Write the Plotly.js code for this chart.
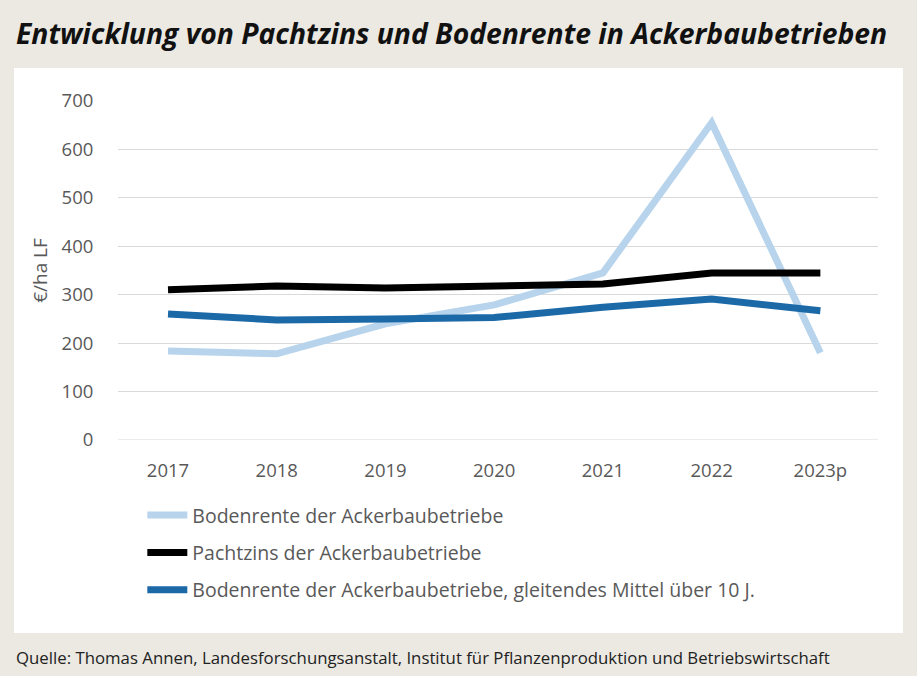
<!DOCTYPE html>
<html><head><meta charset="utf-8">
<script src="https://cdn.plot.ly/plotly-3.0.1.min.js"></script>
<style>body{margin:0;background:#ebe9e2}#c{width:917px;height:676px}</style>
</head><body><div id="c"></div>
<script>
const years = ["2017","2018","2019","2020","2021","2022","2023p"];
const bodenrente = [184, 178, 240, 279, 345, 655, 180];
const pachtzins = [310, 318, 314, 318, 322, 345, 345];
const mittel10 = [260, 248, 250, 253, 274, 291, 267];
const names = ["Bodenrente der Ackerbaubetriebe","Pachtzins der Ackerbaubetriebe","Bodenrente der Ackerbaubetriebe, gleitendes Mittel über 10 J."];
const colors = ["#b7d4ec","#000000","#1c69a8"];
const series = [bodenrente, pachtzins, mittel10];
const traces = series.map((v,i)=>({
  x: years, y: v, type:'scatter', mode:'lines', name: names[i],
  line:{color:colors[i], width:7}, legendgroup:'g'+i, cliponaxis:false
}));
const layout = {
  width:917, height:676,
  paper_bgcolor:'#ebe9e2', plot_bgcolor:'#ffffff',
  margin:{l:118, r:39, t:101, b:236},
  font:{family:'Open Sans, sans-serif', color:'#595959', size:18},
  showlegend:true,
  legend:{x:0.032, y:-0.165, xanchor:'left', yanchor:'top', bgcolor:'rgba(0,0,0,0)',
    font:{size:19.5, color:'#595959', family:'Open Sans, sans-serif'},
    traceorder:'grouped', tracegroupgap:9, itemwidth:40},
  xaxis:{type:'category', range:[-0.46,6.53], showgrid:false, zeroline:false, showline:false,
    ticks:'outside', ticklen:14, tickcolor:'rgba(0,0,0,0)', tickfont:{size:18.5,color:'#595959'}},
  yaxis:{range:[0,700], dtick:100, showgrid:true, gridcolor:'#d9d9d9', gridwidth:1, zeroline:false,
    ticks:'outside', ticklen:20, tickcolor:'rgba(0,0,0,0)', tickfont:{size:18.5,color:'#595959'},
    title:{text:'€/ha LF', font:{size:19,color:'#595959'}, standoff:8}},
  shapes:[
    {type:'rect', xref:'paper', yref:'paper', x0:-0.1368, x1:1.0329, y0:-0.569, y1:1.097,
     fillcolor:'#ffffff', line:{width:0}, layer:'below'},
    {type:'line', xref:'paper', yref:'y', x0:0, x1:1, y0:0, y1:0, line:{color:'#d9d9d9', width:1}, layer:'below'}
  ],
  annotations:[
    {text:'<b><i>Entwicklung von Pachtzins und Bodenrente in Ackerbaubetrieben</i></b>', xref:'paper', yref:'paper',
     x:-0.1368, y:1.202, xanchor:'left', yanchor:'middle', showarrow:false,
     font:{size:28.3, color:'#111111', family:'Open Sans, sans-serif'}},
    {text:'Quelle: Thomas Annen, Landesforschungsanstalt, Institut für Pflanzenproduktion und Betriebswirtschaft', xref:'paper', yref:'paper',
     x:-0.1368, y:-0.641, xanchor:'left', yanchor:'middle', showarrow:false,
     font:{size:16.8, color:'#222222', family:'Open Sans, sans-serif'}}
  ]
};
Plotly.newPlot('c', traces, layout, {displayModeBar:false, staticPlot:true});
</script></body></html>
